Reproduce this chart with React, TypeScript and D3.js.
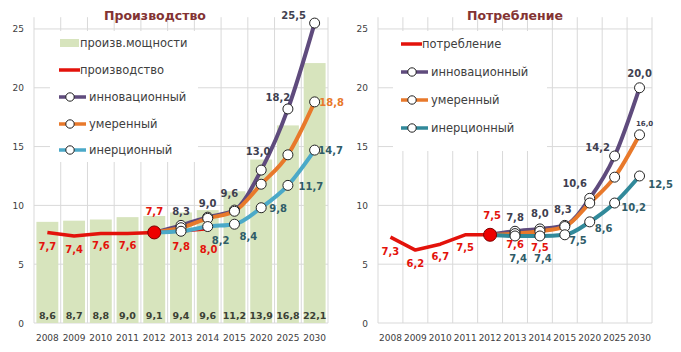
import * as d3 from "d3";

const years = ["2008", "2009", "2010", "2011", "2012", "2013", "2014", "2015", "2020", "2025", "2030"];
const yTicks = [0, 5, 10, 15, 20, 25];

// Производство
const capacity = [8.6, 8.7, 8.8, 9.0, 9.1, 9.4, 9.6, 11.2, 13.9, 16.8, 22.1];
const production = [7.7, 7.4, 7.6, 7.6, 7.7, 7.8, 8.0, null, null, null, null];
const prodInnov = [null, null, null, null, 7.7, 8.3, 9.0, 9.6, 13.0, 18.2, 25.5];
const prodModerate = [null, null, null, null, 7.7, 8.1, 8.9, 9.5, 11.8, 14.3, 18.8];
const prodInertial = [null, null, null, null, 7.7, 7.8, 8.2, 8.4, 9.8, 11.7, 14.7];

// Потребление
const consumption = [7.3, 6.2, 6.7, 7.5, 7.5, 7.6, 7.5, null, null, null, null];
const consInnov = [null, null, null, null, 7.5, 7.8, 8.0, 8.3, 10.6, 14.2, 20.0];
const consModerate = [null, null, null, null, 7.5, 7.6, 7.8, 8.2, 10.2, 12.4, 16.0];
const consInertial = [null, null, null, null, 7.5, 7.4, 7.4, 7.5, 8.6, 10.2, 12.5];

const C = {
  grid: "#d9d9d9",
  bar: "#d7e4bd",
  red: "#e3120b",
  innov: "#5f4b7d",
  moderate: "#e8792b",
  inertialL: "#4ba9c8",
  inertialR: "#31899a",
  text: "#404040",
  title: "#833333",
  labDark: "#3f3f50",
  labTeal: "#2f5c68",
  labBar: "#3b4035",
};

const FONT = "DejaVu Sans, Verdana, sans-serif";
const fmt = (v: number) => v.toFixed(1).replace(".", ",");

type Pt = [number, number]; // label offset dx, dy
type Series = {
  values: (number | null)[];
  color: string;
  width: number;
  markers: boolean;
  smooth: boolean;
  labelColor: string;
  labels: (Pt | null)[];
  labelSize?: number;
};

type PanelProps = {
  title: string;
  titleX: number;
  x0: number;
  x1: number;
  bars?: number[];
  series: Series[];
  dotValue: number;
  dotLabel: Pt;
  legend: { x: number; y: number; w: number; h: number; items: { kind: string; color: string; text: string; y: number }[] };
  legendLineX: number;
};

function Panel(p: PanelProps) {
  const x = d3.scaleBand<string>().domain(years).range([p.x0, p.x1]).padding(0);
  const y = d3.scaleLinear().domain([0, 26]).range([323, 17.2]);
  const bw = x.bandwidth();
  const cx = (i: number) => (x(years[i]) as number) + bw / 2;
  const makeLine = (smooth: boolean) =>
    d3
      .line<number | null>()
      .defined((d) => d !== null)
      .x((_, i) => cx(i))
      .y((d) => y(d as number))
      .curve(smooth ? d3.curveMonotoneX : d3.curveLinear);
  const bounds = years.map((yr) => x(yr) as number).concat([p.x1]);
  const lx = p.legendLineX;

  return (
    <g>
      {bounds.map((b, i) => (
        <line key={"v" + i} x1={b} x2={b} y1={y(26)} y2={y(0)} stroke={C.grid} strokeWidth={1} />
      ))}
      {yTicks.map((t) => (
        <g key={"h" + t}>
          <line x1={p.x0} x2={p.x1} y1={y(t)} y2={y(t)} stroke={C.grid} strokeWidth={1} />
          <text x={p.x0 - 10} y={y(t) + 3.5} textAnchor="end" fontSize={9} fill={C.text} fontFamily={FONT}>
            {t}
          </text>
        </g>
      ))}
      <rect x={p.legend.x} y={p.legend.y} width={p.legend.w} height={p.legend.h} fill="#fff" />
      {years.map((yr, i) => (
        <text key={"xl" + yr} x={cx(i)} y={341} textAnchor="middle" fontSize={9} fill={C.text} fontFamily={FONT}>
          {yr}
        </text>
      ))}
      {p.bars &&
        p.bars.map((v, i) => (
          <g key={"b" + i}>
            <rect x={cx(i) - bw * 0.41} width={bw * 0.82} y={y(v)} height={y(0) - y(v)} fill={C.bar} />
            <text x={cx(i)} y={319} textAnchor="middle" fontSize={9.5} fontWeight="bold" fill={C.labBar} fontFamily={FONT}>
              {fmt(v)}
            </text>
          </g>
        ))}
      {p.series.map((s, k) => (
        <path
          key={"l" + k}
          d={makeLine(s.smooth)(s.values) || ""}
          fill="none"
          stroke={s.color}
          strokeWidth={s.width}
          strokeLinejoin="round"
        />
      ))}
      {p.series.map((s, k) =>
        s.markers
          ? s.values.map((v, i) =>
              v === null || i === 4 ? null : (
                <circle key={"m" + k + "-" + i} cx={cx(i)} cy={y(v)} r={5} fill="#fff" stroke="#222" strokeWidth={1} />
              )
            )
          : null
      )}
      <circle cx={cx(4)} cy={y(p.dotValue)} r={6.5} fill="#ee0000" stroke="#7a0000" strokeWidth={1} />
      <text x={cx(4) + p.dotLabel[0]} y={y(p.dotValue) + p.dotLabel[1]} textAnchor="middle" fontSize={10} fontWeight="bold" fill={C.red} fontFamily={FONT}>
        {fmt(p.dotValue)}
      </text>
      {p.series.map((s, k) =>
        s.values.map((v, i) => {
          const o = s.labels[i];
          if (v === null || !o) return null;
          return (
            <text
              key={"t" + k + "-" + i}
              x={cx(i) + o[0]}
              y={y(v) + o[1]}
              textAnchor="middle"
              fontSize={s.labelSize || 10}
              fontWeight="bold"
              fill={s.labelColor}
              fontFamily={FONT}
            >
              {fmt(v)}
            </text>
          );
        })
      )}
      <text x={p.titleX} y={20} textAnchor="middle" fontSize={12.5} fontWeight="bold" fill={C.title} fontFamily={FONT}>
        {p.title}
      </text>
      {p.legend.items.map((it) => (
        <g key={it.text}>
          {it.kind === "bar" && <rect x={lx + 1} y={it.y - 4} width={19} height={8} fill={C.bar} />}
          {it.kind === "line" && <line x1={lx} x2={lx + 21} y1={it.y} y2={it.y} stroke={it.color} strokeWidth={3.5} />}
          {it.kind === "marker" && (
            <g>
              <line x1={lx} x2={lx + 27} y1={it.y} y2={it.y} stroke={it.color} strokeWidth={3.5} />
              <circle cx={lx + 11} cy={it.y} r={4.2} fill="#fff" stroke="#222" strokeWidth={1} />
            </g>
          )}
          <text x={it.kind === "marker" ? lx + 30 : lx + 21} y={it.y + 4} fontSize={11.5} fill={C.text} fontFamily={FONT}>
            {it.text}
          </text>
        </g>
      ))}
    </g>
  );
}

const _ = null;

export default function App() {
  const left: Series[] = [
    {
      values: prodInnov,
      color: C.innov,
      width: 4,
      markers: true,
      smooth: true,
      labelColor: C.labDark,
      labels: [_, _, _, _, _, [0, -10], [0, -10], [-5, -13], [-3, -15], [-10, -8], [-21, -4]],
    },
    {
      values: prodModerate,
      color: C.moderate,
      width: 4,
      markers: true,
      smooth: true,
      labelColor: C.moderate,
      labels: [_, _, _, _, _, _, _, _, _, _, [17, 4]],
    },
    {
      values: production.map((v, i) => (i >= 4 ? v : null)),
      color: C.red,
      width: 3,
      markers: false,
      smooth: false,
      labelColor: C.red,
      labels: [_, _, _, _, _, [0, 19], [1, 24], _, _, _, _],
    },
    {
      values: production.map((v, i) => (i <= 4 ? v : null)),
      color: C.red,
      width: 3.5,
      markers: false,
      smooth: false,
      labelColor: C.red,
      labels: [[0, 18], [0, 17], [0, 15], [0, 15], _, _, _, _, _, _, _],
    },
    {
      values: prodInertial,
      color: C.inertialL,
      width: 4,
      markers: true,
      smooth: true,
      labelColor: C.labTeal,
      labels: [_, _, _, _, _, _, [13, 17], [14, 16], [17, 4], [23, 5], [16, 4]],
    },
  ];
  const right: Series[] = [
    {
      values: consumption.map((v, i) => (i >= 4 ? v : null)),
      color: C.red,
      width: 3,
      markers: false,
      smooth: false,
      labelColor: C.red,
      labels: [_, _, _, _, _, [0, 14], [0, 16], _, _, _, _],
    },
    {
      values: consumption.map((v, i) => (i <= 4 ? v : null)),
      color: C.red,
      width: 3.5,
      markers: false,
      smooth: false,
      labelColor: C.red,
      labels: [[0, 18], [0, 17], [0, 16], [0, 16], _, _, _, _, _, _, _],
    },
    {
      values: consInnov,
      color: C.innov,
      width: 4,
      markers: true,
      smooth: true,
      labelColor: C.labDark,
      labels: [_, _, _, _, _, [0, -10], [0, -12], [-2, -12], [-15, -11], [-17, -5], [0, -11]],
    },
    {
      values: consModerate,
      color: C.moderate,
      width: 4,
      markers: true,
      smooth: true,
      labelColor: C.labDark,
      labelSize: 7,
      labels: [_, _, _, _, _, _, _, _, _, _, [5, -9]],
    },
    {
      values: consInertial,
      color: C.inertialR,
      width: 4,
      markers: true,
      smooth: true,
      labelColor: C.labTeal,
      labels: [_, _, _, _, _, [3, 26], [3, 26], [13, 9], [14, 10], [19, 8], [21, 12]],
    },
  ];

  return (
    <svg width={681} height={352} style={{ position: "absolute", left: 0, top: 0, background: "#fff" }}>
      <Panel
        title="Производство"
        titleX={155}
        x0={34}
        x1={328}
        bars={capacity}
        series={left}
        dotValue={7.7}
        dotLabel={[0, -17]}
        legendLineX={59}
        legend={{
          x: 50,
          y: 31,
          w: 148,
          h: 131,
          items: [
            { kind: "bar", color: C.bar, text: "произв.мощности", y: 43 },
            { kind: "line", color: C.red, text: "производство", y: 70 },
            { kind: "marker", color: C.innov, text: "инновационный", y: 97 },
            { kind: "marker", color: C.moderate, text: "умеренный", y: 124 },
            { kind: "marker", color: C.inertialL, text: "инерционный", y: 150 },
          ],
        }}
      />
      <Panel
        title="Потребление"
        titleX={515}
        x0={378}
        x1={652}
        series={right}
        dotValue={7.5}
        dotLabel={[2, -16]}
        legendLineX={401}
        legend={{
          x: 393,
          y: 31,
          w: 154,
          h: 120,
          items: [
            { kind: "line", color: C.red, text: "потребление", y: 44 },
            { kind: "marker", color: C.innov, text: "инновационный", y: 72 },
            { kind: "marker", color: C.moderate, text: "умеренный", y: 100 },
            { kind: "marker", color: C.inertialR, text: "инерционный", y: 128 },
          ],
        }}
      />
    </svg>
  );
}
